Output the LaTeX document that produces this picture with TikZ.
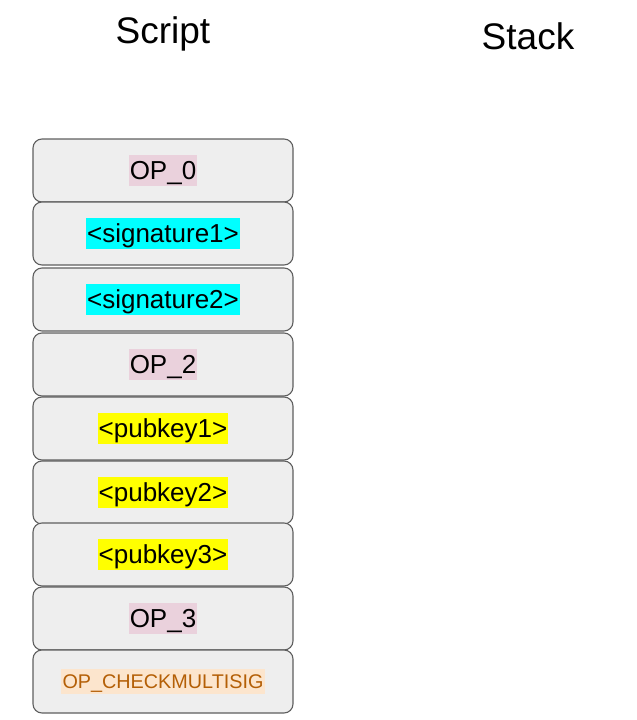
\documentclass[tikz,border=0pt]{standalone}
\usepackage{fontspec}
\setmainfont{Liberation Sans}
\definecolor{boxfill}{HTML}{EEEEEE}
\definecolor{boxline}{HTML}{5F5F5F}
\definecolor{hlpink}{HTML}{EAD1DC}
\definecolor{hlcyan}{HTML}{00FFFF}
\definecolor{hlyellow}{HTML}{FFFF00}
\definecolor{hlorange}{HTML}{FCE5CD}
\definecolor{optext}{HTML}{B45F06}
\begin{document}
\begin{tikzpicture}[x=1pt,y=-1pt,
  cell/.style={draw=boxline,line width=1.1pt,fill=boxfill,rounded corners=9pt,minimum width=260pt,minimum height=63pt,inner sep=0pt},
  hl/.style={inner xsep=1pt,inner ysep=1.5pt,font=\fontsize{26}{30}\selectfont,text height=23pt,text depth=5.5pt},
  hlsmall/.style={inner xsep=1.5pt,inner ysep=1.5pt,font=\fontsize{19.8}{24}\selectfont,text height=18pt,text depth=4.5pt,text=optext,fill=hlorange},
  title/.style={font=\fontsize{37}{44}\selectfont,anchor=base}]
\useasboundingbox (0,0) rectangle (637,720);
\node[title] (tscript) at (163,43) {Script};
\node[title] (tstack) at (528,49) {Stack};
\foreach \i/\y in {1/170.5,2/233.5,3/299.5,4/364.5,5/428.5,6/492.5,7/554.5,8/618.5,9/681.5}{
  \node[cell] (c\i) at (163,\y) {};
}
\node[hl,fill=hlpink] (l1) at (c1.center) {OP\_0};
\node[hl,fill=hlcyan] (l2) at (c2.center) {<signature1>};
\node[hl,fill=hlcyan] (l3) at (c3.center) {<signature2>};
\node[hl,fill=hlpink] (l4) at (c4.center) {OP\_2};
\node[hl,fill=hlyellow] (l5) at (c5.center) {<pubkey1>};
\node[hl,fill=hlyellow] (l6) at (c6.center) {<pubkey2>};
\node[hl,fill=hlyellow] (l7) at (c7.center) {<pubkey3>};
\node[hl,fill=hlpink] (l8) at (c8.center) {OP\_3};
\node[hlsmall] (l9) at (c9.center) {OP\_CHECKMULTISIG};
\end{tikzpicture}
\end{document}
